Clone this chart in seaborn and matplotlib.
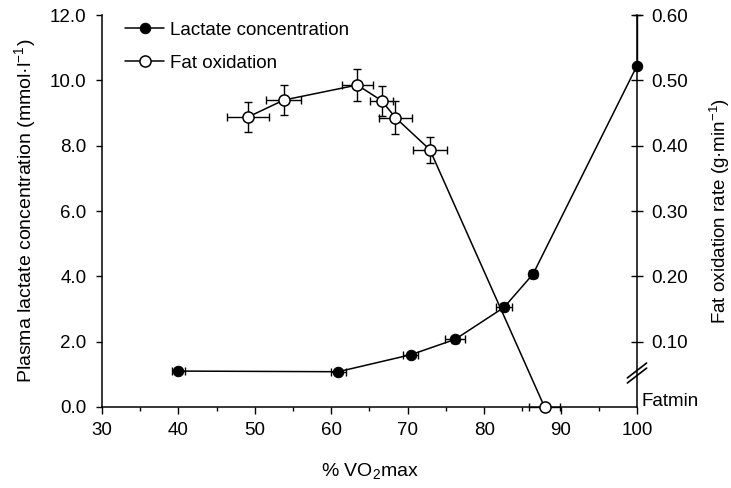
import numpy as np
import pandas as pd
import matplotlib
matplotlib.use("Agg")
import matplotlib.pyplot as plt
import seaborn as sns
from matplotlib.ticker import FixedLocator, FormatStrFormatter

# ---------------- data ----------------
lac_x = [40.0, 60.9, 70.4, 76.2, 82.6, 86.4, 100.0]
lac_y = [1.10, 1.08, 1.60, 2.07, 3.05, 4.07, 10.45]
lac_xerr = [0.9, 1.0, 1.0, 1.3, 1.05, 0.5, 0.0]
lac_yerr_lo = [0.05, 0.05, 0.08, 0.10, 0.12, 0.12, 0.0]
lac_yerr_hi = [0.05, 0.05, 0.08, 0.10, 0.12, 0.12, 1.55]

fat_x = [49.1, 53.8, 63.4, 66.6, 68.4, 72.9, 87.9]
fat_y = [0.444, 0.470, 0.493, 0.469, 0.443, 0.394, 0.0]
fat_xerr = [2.8, 2.3, 2.0, 1.5, 2.1, 2.2, 2.0]
fat_yerr = [0.023, 0.023, 0.025, 0.023, 0.025, 0.020, 0.0]

x_ticks = [30, 40, 50, 60, 70, 80, 90, 100]
x_minor = [35, 45, 55, 65, 75, 85, 95]
left_ticks = [0, 2, 4, 6, 8, 10, 12]
right_ticks = [0.1, 0.2, 0.3, 0.4, 0.5, 0.6]

lac_label = "Lactate concentration"
fat_label = "Fat oxidation"
xlabel = "% VO$_2$max"
ylabel_left = "Plasma lactate concentration (mmol·l$^{-1}$)"
ylabel_right = "Fat oxidation rate (g·min$^{-1}$)"

# ---------------- style ----------------
sns.set_style("ticks")
plt.rcParams["font.family"] = ["Liberation Sans", "DejaVu Sans"]
plt.rcParams["mathtext.fontset"] = "custom"
plt.rcParams["mathtext.rm"] = "Liberation Sans"
plt.rcParams["mathtext.it"] = "Liberation Sans"
plt.rcParams["mathtext.bf"] = "Liberation Sans:bold"
plt.rcParams["axes.linewidth"] = 1.1
for k in ("text.color", "axes.labelcolor", "xtick.color", "ytick.color",
          "axes.edgecolor"):
    plt.rcParams[k] = "black"

fs = 13.5
fs_lab = 14
fig = plt.figure(figsize=(7.31, 4.88), dpi=100)
ax = fig.add_axes([0.1395, 0.166, 0.7319, 0.803])
ax2 = ax.twinx()

lac_df = pd.DataFrame({"x": lac_x, "y": lac_y})
fat_df = pd.DataFrame({"x": fat_x, "y": fat_y})

# error bars
ax.errorbar(lac_x, lac_y, xerr=lac_xerr, yerr=[lac_yerr_lo, lac_yerr_hi],
            fmt="none", ecolor="black", elinewidth=1.0, capsize=3,
            capthick=1.0, zorder=2, clip_on=False)
ax2.errorbar(fat_x, fat_y, xerr=fat_xerr, yerr=fat_yerr, fmt="none",
             ecolor="black", elinewidth=1.0, capsize=3, capthick=1.0, zorder=2,
             clip_on=False)

sns.lineplot(data=lac_df, x="x", y="y", ax=ax, color="black", linewidth=1.1,
             marker="o", markersize=7.5, markerfacecolor="black",
             markeredgecolor="black", label=lac_label, zorder=3,
             errorbar=None, sort=False, clip_on=False)
sns.lineplot(data=fat_df, x="x", y="y", ax=ax2, color="black", linewidth=1.1,
             marker="o", markersize=8, markerfacecolor="white",
             markeredgecolor="black", markeredgewidth=1.1, label=fat_label,
             zorder=3, errorbar=None, sort=False, clip_on=False)
for a in (ax, ax2):
    lg = a.get_legend()
    if lg is not None:
        lg.remove()

# axes limits & ticks
ax.set_xlim(30, 100)
ax.set_ylim(0, 12)
ax2.set_ylim(0, 0.6)

ax.xaxis.set_major_locator(FixedLocator(x_ticks))
ax.xaxis.set_minor_locator(FixedLocator(x_minor))
ax.yaxis.set_major_locator(FixedLocator(left_ticks))
ax.yaxis.set_major_formatter(FormatStrFormatter("%.1f"))
ax2.yaxis.set_major_locator(FixedLocator(right_ticks))
ax2.yaxis.set_major_formatter(FormatStrFormatter("%.2f"))

ax.tick_params(axis="x", which="major", direction="out", length=5, width=1.0,
               labelsize=fs, pad=6)
ax.tick_params(axis="x", which="minor", direction="out", length=3, width=1.0)
ax.tick_params(axis="y", which="major", direction="out", length=4, width=1.0,
               labelsize=fs, pad=7)
ax2.tick_params(axis="y", which="major", direction="inout", length=9, width=1.0,
                labelsize=fs, pad=6)

for a in (ax, ax2):
    a.spines["top"].set_visible(False)
ax.spines["right"].set_visible(False)
ax2.spines["right"].set_visible(True)
ax2.spines["left"].set_visible(False)
ax2.spines["bottom"].set_visible(False)

ax.set_xlabel(xlabel, fontsize=fs_lab, labelpad=16)
ax.set_ylabel(ylabel_left, fontsize=fs_lab, labelpad=9)
ax2.set_ylabel(ylabel_right, fontsize=fs, labelpad=14)

# Fatmin label at zero of the right axis
ax2.text(1.009, 0.008, "Fatmin", transform=ax2.get_yaxis_transform(),
         ha="left", va="center", fontsize=fs)

# axis break mark on right spine
for dy in (-0.0065, 0.0065):
    yc = 0.0867 + dy
    ax2.plot([0.982, 1.018], [yc - 0.019, yc + 0.019], transform=ax2.transAxes,
             color="black", lw=1.2, clip_on=False, zorder=5)

# legend
h1, l1 = ax.get_legend_handles_labels()
h2, l2 = ax2.get_legend_handles_labels()
ax2.legend(h1 + h2, l1 + l2, loc="upper left", bbox_to_anchor=(0.043, 0.983),
           frameon=False, fontsize=fs, borderpad=0, borderaxespad=0,
           handlelength=2.1, handletextpad=0.3, labelspacing=0.85)

fig.savefig("out.png", dpi=100)
